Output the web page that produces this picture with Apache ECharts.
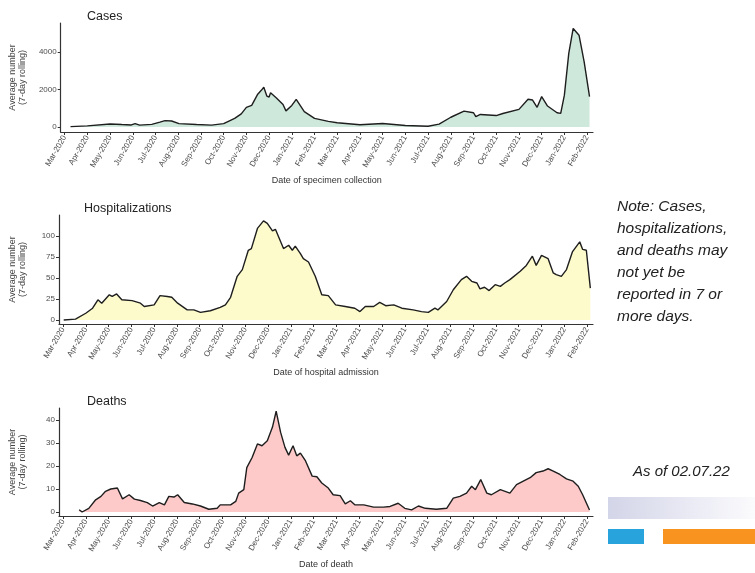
<!DOCTYPE html>
<html>
<head>
<meta charset="utf-8">
<script src="https://cdn.jsdelivr.net/npm/echarts@6/dist/echarts.min.js"></script>
<style>
html,body{margin:0;padding:0;background:#fff;}
#chart{width:755px;height:573px;}
</style>
</head>
<body>
<div id="chart"></div>
<script>
// ---------- tick labels ----------
const monthLabels = ['Mar-2020','Apr-2020','May-2020','Jun-2020','Jul-2020','Aug-2020','Sep-2020','Oct-2020','Nov-2020','Dec-2020',
  'Jan-2021','Feb-2021','Mar-2021','Apr-2021','May-2021','Jun-2021','Jul-2021','Aug-2021','Sep-2021','Oct-2021','Nov-2021','Dec-2021',
  'Jan-2022','Feb-2022'];
const casesTicks = [0, 2000, 4000];
const hospTicks = [0, 25, 50, 75, 100];
const deathTicks = [0, 10, 20, 30, 40];

// ---------- Cases ----------
const casesDates = ['2020-03-09','2020-04-01','2020-05-01','2020-05-17','2020-05-30','2020-06-04','2020-06-10','2020-06-26','2020-07-07','2020-07-14',
  '2020-07-23','2020-08-02','2020-08-26','2020-09-15','2020-10-01','2020-10-16','2020-10-25','2020-11-01','2020-11-08','2020-11-16',
  '2020-11-21','2020-11-24','2020-11-28','2020-12-01','2020-12-03','2020-12-11','2020-12-20','2020-12-24','2021-01-01','2021-01-07',
  '2021-01-18','2021-02-01','2021-02-18','2021-03-01','2021-04-01','2021-05-01','2021-06-01','2021-07-01','2021-07-16','2021-08-01',
  '2021-08-19','2021-09-01','2021-09-04','2021-09-10','2021-10-01','2021-10-10','2021-11-01','2021-11-13','2021-11-19','2021-11-25',
  '2021-12-01','2021-12-09','2021-12-22','2021-12-27','2022-01-01','2022-01-07','2022-01-13','2022-01-21','2022-01-28','2022-02-04'];
const casesValues = [20,60,160,130,110,180,100,140,260,340,
  320,180,130,100,180,460,700,1050,1150,1750,
  1970,2120,1650,1600,1830,1550,1200,860,1150,1470,
  820,460,300,230,120,190,80,40,150,520,
  850,760,550,670,610,720,940,1480,1440,1050,
  1620,1120,760,730,1700,3930,5260,4900,3480,1620];

// ---------- Hospitalizations ----------
const hospDates = ['2020-03-02','2020-03-18','2020-04-01','2020-04-10','2020-04-17','2020-04-22','2020-05-02','2020-05-06','2020-05-12','2020-05-19',
  '2020-06-02','2020-06-13','2020-06-18','2020-07-01','2020-07-09','2020-07-19','2020-07-25','2020-08-02','2020-08-15','2020-08-24',
  '2020-09-02','2020-09-15','2020-09-28','2020-10-05','2020-10-12','2020-10-21','2020-10-28','2020-11-05','2020-11-09','2020-11-17',
  '2020-11-25','2020-11-30','2020-12-07','2020-12-11','2020-12-22','2020-12-29','2021-01-03','2021-01-07','2021-01-14','2021-01-18',
  '2021-01-25','2021-02-03','2021-02-11','2021-02-19','2021-02-28','2021-03-13','2021-03-26','2021-04-02','2021-04-09','2021-04-20',
  '2021-04-28','2021-05-06','2021-05-17','2021-05-28','2021-06-12','2021-06-23','2021-07-02','2021-07-11','2021-07-15','2021-07-27',
  '2021-08-05','2021-08-16','2021-08-23','2021-08-30','2021-09-06','2021-09-10','2021-09-16','2021-09-22','2021-09-30','2021-10-07',
  '2021-10-13','2021-10-20','2021-11-03','2021-11-11','2021-11-19','2021-11-24','2021-12-01','2021-12-10','2021-12-17','2021-12-21',
  '2021-12-28','2022-01-04','2022-01-12','2022-01-22','2022-01-26','2022-01-31','2022-02-05'];
const hospValues = [0,1,8,14,24,20,30,28,31,24,
  23,20,16,18,29,28,27,20,12,12,
  9,11,15,18,27,52,60,83,85,109,
  118,115,106,108,85,89,83,88,79,73,
  69,52,30,29,18,16,14,10,16,16,
  21,17,18,14,12,10,9,14,12,22,
  36,48,52,46,44,37,39,35,42,40,
  44,48,58,65,76,65,77,73,56,54,
  52,60,81,93,84,83,38];

// ---------- Deaths ----------
const deathDates = ['2020-03-23','2020-03-27','2020-04-05','2020-04-14','2020-04-21','2020-04-27','2020-05-04','2020-05-13','2020-05-20','2020-05-29',
  '2020-06-05','2020-06-13','2020-06-22','2020-06-29','2020-07-08','2020-07-15','2020-07-21','2020-07-28','2020-08-02','2020-08-11',
  '2020-08-22','2020-09-02','2020-09-13','2020-09-24','2020-09-28','2020-10-12','2020-10-19','2020-10-23','2020-10-30','2020-11-03',
  '2020-11-10','2020-11-17','2020-11-23','2020-11-30','2020-12-07','2020-12-12','2020-12-18','2020-12-24','2020-12-29','2021-01-04',
  '2021-01-09','2021-01-14','2021-01-21','2021-01-30','2021-02-05','2021-02-11','2021-02-19','2021-02-25','2021-03-06','2021-03-13',
  '2021-03-20','2021-03-26','2021-04-07','2021-04-20','2021-05-03','2021-05-12','2021-05-23','2021-06-01','2021-06-10','2021-06-19',
  '2021-06-28','2021-07-13','2021-07-27','2021-08-05','2021-08-14','2021-08-23','2021-08-30','2021-09-04','2021-09-11','2021-09-19',
  '2021-09-25','2021-10-07','2021-10-20','2021-10-29','2021-11-07','2021-11-16','2021-11-24','2021-12-03','2021-12-10','2021-12-17',
  '2021-12-26','2022-01-04','2022-01-13','2022-01-20','2022-01-26','2022-02-04'];
const deathValues = [1,0,1.6,5.3,6.8,9,10,10.4,5.7,7.5,
  5.6,5,4.1,2.6,4.1,3.1,6.8,6.5,7.5,4.1,
  3.5,2.6,1.2,1.6,3.1,3.1,4.6,8.2,9.7,19.3,
  23.7,29.6,28.8,31,36.9,43.8,34.7,28.1,24.7,28.8,
  24.4,25.6,22.2,15.6,15.3,12.6,10.4,7.5,7.1,3.5,
  4.9,3.1,3.1,2.1,2.1,2.4,3.8,1.6,0.9,2.6,
  1.6,1.2,1.6,6,6.8,8.2,11.2,9.7,14.1,8.2,
  7.5,9.7,8.2,11.9,13.4,14.9,17.1,17.8,18.8,17.8,
  16.3,14.4,13.4,11.2,7.5,0.9];

// date -> months since 2020-03-01 (axis unit = 1 month)
function toMonth(d) {
  const p = d.split('-').map(Number);
  const dim = new Date(p[0], p[1], 0).getDate();
  return (p[0] - 2020) * 12 + (p[1] - 3) + (p[2] - 1) / dim;
}
function pairs(dates, vals) { return dates.map((d, i) => [toMonth(d), vals[i]]); }

const FONT = '"Liberation Sans", Arial, sans-serif';
const monthIdx = monthLabels.map((_, i) => i);
const tops = [23, 215, 408];
const heights = [109, 109, 108];
const xNames = ['Date of specimen collection', 'Date of hospital admission', 'Date of death'];
const yRanges = [[-267, 5550], [-4.8, 125], [-1.74, 45.2]];
const yTicks = [casesTicks, hospTicks, deathTicks];
const fills = ['#cfe8dc', '#fdfbcb', '#fdc9c9'];
const seriesData = [pairs(casesDates, casesValues), pairs(hospDates, hospValues), pairs(deathDates, deathValues)];

const chart = echarts.init(document.getElementById('chart'), null, { renderer: 'canvas' });
const option = {
  backgroundColor: '#ffffff',
  animation: false,
  textStyle: { fontFamily: FONT },
  title: [
    { text: 'Cases', left: 82, top: 5 },
    { text: 'Hospitalizations', left: 79, top: 197 },
    { text: 'Deaths', left: 82, top: 390 }
  ].map(t => Object.assign(t, { textStyle: { fontFamily: FONT, fontSize: 12.5, fontWeight: 'normal', color: '#222' } })),
  grid: tops.map((t, i) => ({ left: 58, right: 162, top: t, height: heights[i], containLabel: false })),
  xAxis: tops.map((t, i) => ({
    type: 'value', gridIndex: i, min: -0.175, max: 23.26,
    name: xNames[i], nameLocation: 'middle', nameGap: 44,
    nameTextStyle: { fontFamily: FONT, fontSize: 9, color: '#333' },
    axisLine: { onZero: false, lineStyle: { color: '#333', width: 1.2 } },
    axisTick: { show: true, customValues: monthIdx, length: 3, lineStyle: { color: '#333' } },
    axisLabel: { customValues: monthIdx, rotate: 60, fontSize: 8, color: '#4d4d4d', margin: 4, fontFamily: FONT,
      formatter: v => monthLabels[Math.round(v)] },
    splitLine: { show: false }
  })),
  yAxis: tops.map((t, i) => ({
    type: 'value', gridIndex: i, min: yRanges[i][0], max: yRanges[i][1],
    name: 'Average number\n(7-day rolling)', nameLocation: 'middle', nameGap: 31, nameRotate: 90,
    nameTextStyle: { fontFamily: FONT, fontSize: 9, color: '#444', lineHeight: 10 },
    axisLine: { show: true, onZero: false, lineStyle: { color: '#333', width: 1.2 } },
    axisTick: { show: true, customValues: yTicks[i], length: 3, lineStyle: { color: '#333' } },
    axisLabel: { customValues: yTicks[i], fontSize: 8, color: '#4d4d4d', margin: 4, fontFamily: FONT,
      formatter: v => String(Math.round(v)) },
    splitLine: { show: false }
  })),
  series: seriesData.map((d, i) => ({
    type: 'line', xAxisIndex: i, yAxisIndex: i, data: d,
    showSymbol: false, symbol: 'none', smooth: false,
    lineStyle: { color: '#1e1e1e', width: 1.4 },
    areaStyle: { color: fills[i], opacity: 1 }
  })),
  graphic: [
    { type: 'text', left: 617, top: 196,
      style: { text: 'Note: Cases,\nhospitalizations,\nand deaths may\nnot yet be\nreported in 7 or\nmore days.',
        fontFamily: FONT, fontStyle: 'italic', fontSize: 15.5, lineHeight: 22, fill: '#222' } },
    { type: 'text', left: 633, top: 464,
      style: { text: 'As of 02.07.22', fontFamily: FONT, fontStyle: 'italic', fontSize: 15, fill: '#222' } },
    { type: 'rect', shape: { x: 608, y: 497, width: 147, height: 22 },
      style: { fill: new echarts.graphic.LinearGradient(0, 0, 1, 0, [
        { offset: 0, color: '#d3d5e8' }, { offset: 1, color: '#fbfbfd' }]) } },
    { type: 'rect', shape: { x: 608, y: 529, width: 36, height: 15 }, style: { fill: '#29a3dc' } },
    { type: 'rect', shape: { x: 663, y: 529, width: 92, height: 15 }, style: { fill: '#f7931e' } }
  ]
};
chart.setOption(option);
</script>
</body>
</html>
